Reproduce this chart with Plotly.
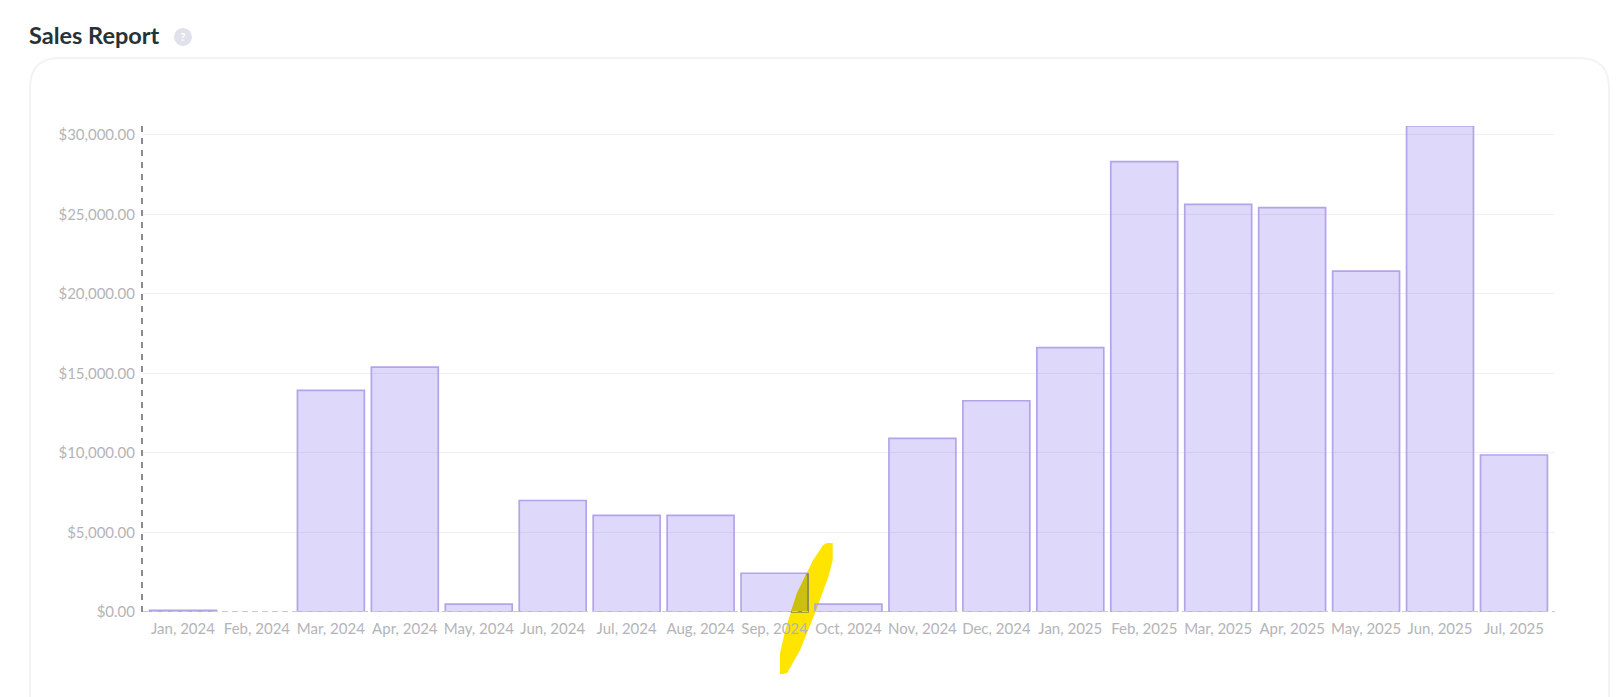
import plotly.graph_objects as go

W, H = 1620, 697
L, R, T, B = 142, 1555, 126, 611.7

categories = ["Jan, 2024","Feb, 2024","Mar, 2024","Apr, 2024","May, 2024","Jun, 2024","Jul, 2024",
              "Aug, 2024","Sep, 2024","Oct, 2024","Nov, 2024","Dec, 2024","Jan, 2025","Feb, 2025",
              "Mar, 2025","Apr, 2025","May, 2025","Jun, 2025","Jul, 2025"]
sales = [100, 0, 13930, 15390, 490, 7010, 6070, 6070, 2435, 500, 10910, 13280, 16620, 28310,
         25620, 25420, 21430, 30550, 9870]
y_ticks = [0, 5000, 10000, 15000, 20000, 25000, 30000]
y_tick_labels = ["$0.00","$5,000.00","$10,000.00","$15,000.00","$20,000.00","$25,000.00","$30,000.00"]
y_top = 30550

FONT = "Lato, 'Noto Sans', sans-serif"

# Paper coordinates span the plot area, so page pixels are converted relative to it.
def px(x): return (x - L) / (R - L)
def py(y): return (B - y) / (B - T)
def path(points, close=True):
    return "M " + " L ".join(f"{px(a):.5f},{py(b):.5f}" for a, b in points) + (" Z" if close else "")

highlight = [(826.7,542.7),(832.7,542.7),(832.7,560),(828.3,576.7),(815,613),(800,650),(787,673),
             (780,674),(780,653),(786,627),(797,593),(813,560),(823,545)]
highlight_on_bar = [(790.9,611.7),(797,593),(806.2,574),(808,574),(808,611.7)]
highlight_bar_edge = [(806.2,574),(808,574),(808,611.7),(790.9,611.7)]
card = (f"M {px(30):.5f},{py(720):.5f} L {px(30):.5f},{py(88):.5f} "
        f"Q {px(30):.5f},{py(58):.5f} {px(60):.5f},{py(58):.5f} "
        f"L {px(1579):.5f},{py(58):.5f} Q {px(1609):.5f},{py(58):.5f} {px(1609):.5f},{py(88):.5f} "
        f"L {px(1609):.5f},{py(720):.5f}")

fig = go.Figure(go.Bar(
    x=list(range(len(categories))), y=sales, width=0.905,
    marker=dict(color="rgba(119,93,235,0.24)",
                line=dict(color="#b3a4ea", width=[1.7 if v > 0 else 0 for v in sales])),
    hoverinfo="skip", cliponaxis=False,
))

shapes = [
    dict(type="path", path=card, xref="paper", yref="paper", line=dict(color="#f3f3f5", width=2),
         fillcolor="white", layer="below"),
    dict(type="path", path=path(highlight), xref="paper", yref="paper", line=dict(width=0),
         fillcolor="#ffe400", layer="below"),
    dict(type="path", path=path(highlight_on_bar), xref="paper", yref="paper", line=dict(width=0),
         fillcolor="#cbc00e", layer="above"),
    dict(type="path", path=path(highlight_bar_edge, close=False), xref="paper", yref="paper",
         line=dict(color="#8d8a3c", width=1.7), layer="above"),
    dict(type="line", xref="x domain", yref="y", x0=0, x1=1, y0=0, y1=0,
         line=dict(color="#c9c9cd", width=2, dash="6px,4px"), layer="above"),
    dict(type="line", xref="x domain", yref="y domain", x0=0, x1=0, y0=0, y1=1,
         line=dict(color="#8b8b94", width=2, dash="6px,6px"), layer="above"),
    dict(type="circle", xref="paper", yref="paper", x0=px(174), x1=px(192), y0=py(46), y1=py(28),
         fillcolor="#e0e1ea", line=dict(width=0), layer="below"),
]

annotations = [
    dict(text="<b>Sales Report</b>", xref="paper", yref="paper", x=px(27), y=py(35), xanchor="left",
         yanchor="middle", showarrow=False, font=dict(family=FONT, size=23.5, color="#263238")),
    dict(text="<b>?</b>", xref="paper", yref="paper", x=px(183), y=py(37), xanchor="center",
         yanchor="middle", showarrow=False, font=dict(family=FONT, size=12, color="#ffffff")),
]

fig.update_layout(
    width=W, height=H, autosize=False,
    margin=dict(l=L, r=W-R, t=T, b=H-B, pad=0),
    paper_bgcolor="white", plot_bgcolor="rgba(0,0,0,0)",
    showlegend=False, shapes=shapes, annotations=annotations,
    font=dict(family=FONT, size=15, color="#b4b4b8"),
    xaxis=dict(range=[-0.5545, 18.555], tickmode="array", tickvals=list(range(len(categories))),
               ticktext=categories, showgrid=False, zeroline=False, showline=False, ticks="outside",
               ticklen=3, tickcolor="rgba(0,0,0,0)", tickfont=dict(size=15, color="#b4b4b8")),
    yaxis=dict(range=[0, y_top], tickmode="array", tickvals=y_ticks, ticktext=y_tick_labels,
               showgrid=True, gridcolor="#f0f0f3", gridwidth=1, zeroline=False, showline=False,
               ticks="outside", ticklen=3, tickcolor="rgba(0,0,0,0)",
               tickfont=dict(size=15, color="#b4b4b8")),
)

fig.write_html("out.html", config=dict(displayModeBar=False),
               post_script="document.body.style.margin='0';")
